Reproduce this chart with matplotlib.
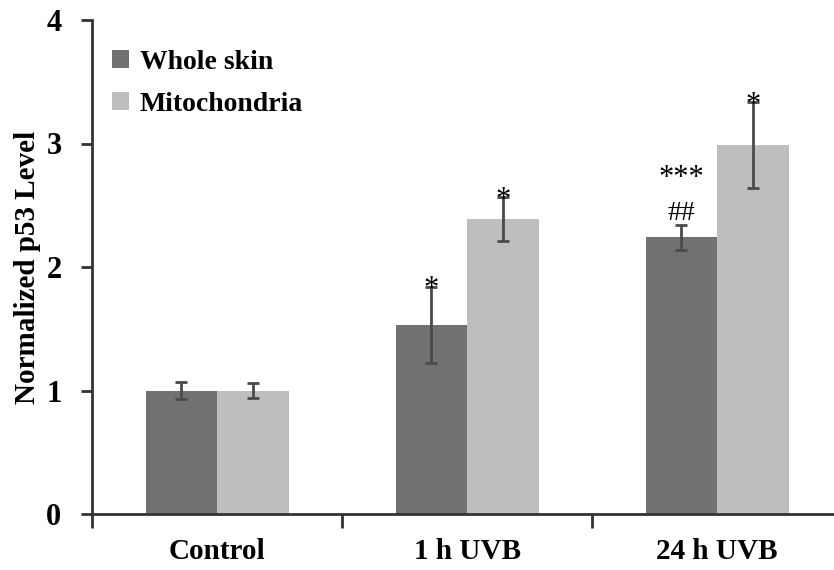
import matplotlib
matplotlib.use("Agg")
import matplotlib.pyplot as plt
import numpy as np
from matplotlib.ticker import FixedLocator, NullFormatter

categories = ["Control", "1 h UVB", "24 h UVB"]
whole_skin = [1.0, 1.53, 2.24]
whole_err = [0.07, 0.31, 0.10]
mito = [1.0, 2.39, 2.99]
mito_err = [0.06, 0.18, 0.35]
series_names = ["Whole skin", "Mitochondria"]
whole_marks = ["", "*", "***\n##"]
mito_marks = ["", "*", "*"]

plt.rcParams['font.family'] = ['Liberation Serif', 'DejaVu Serif']
plt.rcParams['font.weight'] = 'bold'

fig = plt.figure(figsize=(8.34, 5.70), dpi=100)
ax = fig.add_axes([92/834, 56/570, 742/834, 494/570])

x = np.arange(len(categories))
w = 0.286
dark = "#717171"
light = "#bebebe"
ecol = "#4a4a4a"

ax.bar(x - w/2, whole_skin, w, color=dark, label=series_names[0], zorder=2)
ax.bar(x + w/2, mito, w, color=light, label=series_names[1], zorder=2)
ax.errorbar(x - w/2, whole_skin, yerr=whole_err, fmt='none', ecolor=ecol,
            elinewidth=2, capsize=4, capthick=2, zorder=3)
ax.errorbar(x + w/2, mito, yerr=mito_err, fmt='none', ecolor=ecol,
            elinewidth=2, capsize=4, capthick=2, zorder=3)

# annotations
for i in range(len(categories)):
    if whole_marks[i] == "*":
        ax.text(x[i] - w/2, whole_skin[i] + whole_err[i] - 0.14, "*", ha='center', va='bottom',
                fontsize=22, fontweight='normal', zorder=4)
    elif whole_marks[i]:
        ax.text(x[i] - w/2, whole_skin[i] + whole_err[i] + 0.26, "***", ha='center', va='bottom',
                fontsize=22, fontweight='normal', zorder=4)
        ax.text(x[i] - w/2, whole_skin[i] + whole_err[i] - 0.01, "##", ha='center', va='bottom',
                fontsize=20, fontweight='normal', zorder=4)
    if mito_marks[i]:
        ax.text(x[i] + w/2, mito[i] + mito_err[i] - 0.15, "*", ha='center', va='bottom',
                fontsize=22, fontweight='normal', zorder=4)

ax.set_xlim(-0.5, 2.468)
ax.set_ylim(0, 4)
ax.set_yticks([0, 1, 2, 3, 4])
ax.tick_params(axis='y', direction='out', length=8, width=2, color='#333333',
               labelsize=22, pad=14)

ax.xaxis.set_major_locator(FixedLocator([-0.5, 0.5, 1.5]))
ax.xaxis.set_major_formatter(NullFormatter())
ax.xaxis.set_minor_locator(FixedLocator(x))
ax.set_xticklabels(categories, minor=True)
ax.tick_params(axis='x', which='major', direction='out', length=10, width=2, color='#333333')
ax.tick_params(axis='x', which='minor', length=0, labelsize=21, pad=17)

for s in ['top', 'right']:
    ax.spines[s].set_visible(False)
for s in ['left', 'bottom']:
    ax.spines[s].set_linewidth(2)
    ax.spines[s].set_color('#333333')

ax.set_ylabel("Normalized p53 Level", fontsize=21, fontweight='bold', labelpad=4)

leg = ax.legend(loc='upper left', bbox_to_anchor=(0.012, 0.962), frameon=False,
                fontsize=20, handlelength=0.6, handleheight=0.6, handletextpad=0.4,
                labelspacing=0.6, borderaxespad=0)

fig.savefig("out.png", dpi=100)
